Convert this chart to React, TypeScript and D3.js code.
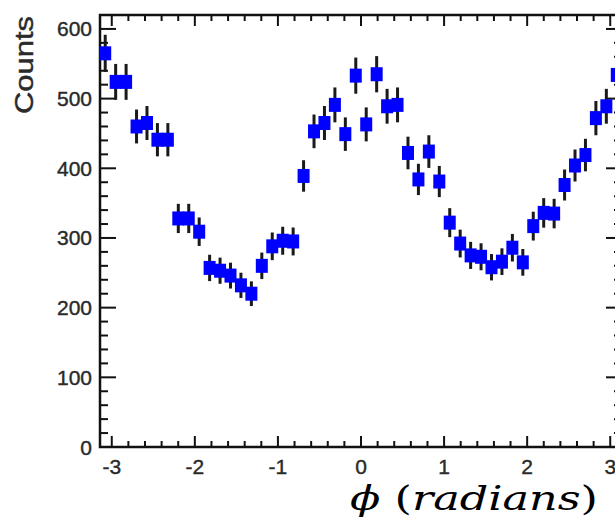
import React from "react";
import * as d3 from "d3";

// Azimuthal angle distribution: 50 bins from -π to π
const binCounts: number[] = [
  565, 524, 524, 460, 465, 441, 441, 328, 328, 309,
  257, 253, 246, 232, 220, 260, 288, 296, 295, 389,
  453, 465, 491, 449, 533, 463, 535, 489, 491, 422,
  384, 424, 381, 322, 292, 275, 273, 258, 266, 286,
  265, 317, 336, 335, 376, 404, 419, 472, 489, 534,
];
const xTickValues: number[] = [-3, -2, -1, 0, 1, 2, 3];
const yTickValues: number[] = [0, 100, 200, 300, 400, 500, 600];
const yAxisTitle = "Counts";
const xAxisTitle = ["ϕ", " (", "radians", ")"];

const W = 615;
const H = 519;
const left = 100;
const right = 622;
const top = 15;
const bottom = 447;

export default function App() {
  const x = d3.scaleLinear().domain([-Math.PI, Math.PI]).range([left, right]);
  const y = d3.scaleLinear().domain([0, 620]).range([bottom, top]);
  const nBins = binCounts.length;
  const binW = (2 * Math.PI) / nBins;
  const points = binCounts.map((c, i) => ({
    phi: -Math.PI + (i + 0.5) * binW,
    c,
    err: Math.sqrt(c),
  }));

  const xMinor = d3.range(-3.2, 3.21, 0.2).filter(
    (v) => v > -Math.PI && v < Math.PI && Math.abs(v - Math.round(v)) > 1e-6
  );
  const yMinor = d3.range(0, 621, 20).filter((v) => v % 100 !== 0);

  const textColor = "#2a2a2a";
  const tickStroke = "#111";
  const markW = 12;
  const markH = 14;

  return (
    <svg
      width={W}
      height={H}
      style={{ position: "absolute", left: 0, top: 0, background: "#fff" }}
    >
      <defs>
        <clipPath id="plotClip">
          <rect x={0} y={0} width={W} height={H} />
        </clipPath>
      </defs>
      <g clipPath="url(#plotClip)">
        {/* x ticks, bottom and top */}
        {xTickValues.map((v) => (
          <g key={`xt${v}`} stroke={tickStroke} strokeWidth={2}>
            <line x1={x(v)} x2={x(v)} y1={bottom} y2={bottom - 11} />
            <line x1={x(v)} x2={x(v)} y1={top} y2={top + 11} />
          </g>
        ))}
        {xMinor.map((v, i) => (
          <g key={`xm${i}`} stroke={tickStroke} strokeWidth={2}>
            <line x1={x(v)} x2={x(v)} y1={bottom} y2={bottom - 6} />
            <line x1={x(v)} x2={x(v)} y1={top} y2={top + 6} />
          </g>
        ))}
        {/* y ticks, left and right */}
        {yTickValues.map((v) => (
          <g key={`yt${v}`} stroke={tickStroke} strokeWidth={2}>
            <line x1={left} x2={left + 16} y1={y(v)} y2={y(v)} />
            <line x1={right} x2={right - 16} y1={y(v)} y2={y(v)} />
          </g>
        ))}
        {yMinor.map((v) => (
          <g key={`ym${v}`} stroke={tickStroke} strokeWidth={2}>
            <line x1={left} x2={left + 8} y1={y(v)} y2={y(v)} />
            <line x1={right} x2={right - 8} y1={y(v)} y2={y(v)} />
          </g>
        ))}
        {/* frame */}
        <rect
          x={left}
          y={top}
          width={right - left}
          height={bottom - top}
          fill="none"
          stroke={tickStroke}
          strokeWidth={2.5}
        />
        {/* error bars */}
        {points.map((p, i) => (
          <line
            key={`e${i}`}
            x1={x(p.phi)}
            x2={x(p.phi)}
            y1={y(p.c - p.err) + 2}
            y2={y(p.c + p.err) - 2}
            stroke="#1a1a1a"
            strokeWidth={3}
          />
        ))}
        {/* markers */}
        {points.map((p, i) => (
          <rect
            key={`m${i}`}
            x={x(p.phi) - markW / 2}
            y={y(p.c) - markH / 2}
            width={markW}
            height={markH}
            fill="#0000ff"
          />
        ))}
      </g>

      {/* tick labels */}
      <g
        fontFamily="'Liberation Sans', Arial, sans-serif"
        fontSize={21}
        fill={textColor}
        stroke={textColor}
        strokeWidth={0.4}
      >
        {yTickValues.map((v) => (
          <text
            key={`yl${v}`}
            x={left - 8}
            y={y(v)}
            textAnchor="end"
            dominantBaseline="central"
          >
            {v}
          </text>
        ))}
        {xTickValues.map((v) => (
          <text
            key={`xl${v}`}
            x={x(v)}
            y={466}
            textAnchor="middle"
            dominantBaseline="central"
          >
            {v < 0 ? `-${Math.abs(v)}` : `${v}`}
          </text>
        ))}
      </g>

      {/* axis titles */}
      <text
        transform={`translate(33, 65) rotate(-90)`}
        textAnchor="middle"
        fontFamily="'Liberation Sans', Arial, sans-serif"
        fontSize={25}
        fill={textColor}
        stroke={textColor}
        strokeWidth={0.4}
        textLength={98}
        lengthAdjust="spacingAndGlyphs"
      >
        {yAxisTitle}
      </text>
      <text
        x={350}
        y={510}
        fontFamily="'DejaVu Serif', 'Liberation Serif', serif"
        fontSize={34}
        fill="#000"
        textLength={248}
        lengthAdjust="spacingAndGlyphs"
      >
        <tspan fontStyle="italic">{xAxisTitle[0]}</tspan>
        <tspan>{xAxisTitle[1]}</tspan>
        <tspan fontStyle="italic">{xAxisTitle[2]}</tspan>
        <tspan>{xAxisTitle[3]}</tspan>
      </text>
    </svg>
  );
}
